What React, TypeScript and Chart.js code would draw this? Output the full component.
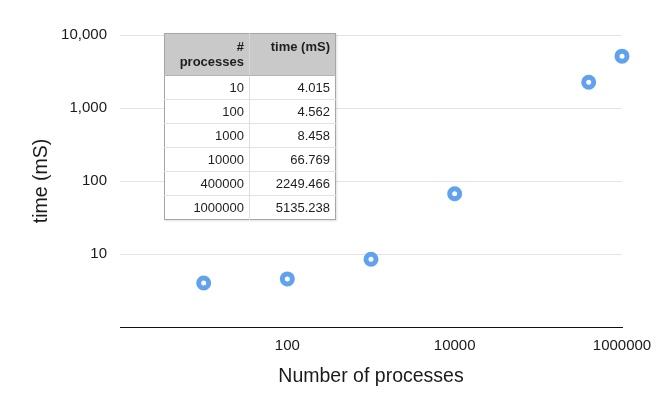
import React, { useEffect, useRef } from "react";
import { Chart, registerables } from "chart.js";

Chart.register(...registerables);

const processes = [10, 100, 1000, 10000, 400000, 1000000];
const timesMs = [4.015, 4.562, 8.458, 66.769, 2249.466, 5135.238];
const xTickValues = [100, 10000, 1000000];
const yTickValues = [1, 10, 100, 1000, 10000];
const tableHeaders = ["#\nprocesses", "time (mS)"];

const FONT = "'Liberation Sans', Arial, Helvetica, sans-serif";
const POINT_COLOR = "rgb(96,162,237)";

export default function App() {
  const canvasRef = useRef<HTMLCanvasElement | null>(null);

  useEffect(() => {
    const canvas = canvasRef.current;
    if (!canvas) return;
    const chart = new Chart(canvas, {
      type: "scatter",
      data: {
        datasets: [
          {
            data: processes.map((p, i) => ({ x: p, y: timesMs[i] })),
            pointRadius: 5,
            pointHoverRadius: 5,
            borderWidth: 5,
            pointBorderWidth: 5,
            borderColor: POINT_COLOR,
            pointBorderColor: POINT_COLOR,
            backgroundColor: "#ffffff",
            pointBackgroundColor: "#ffffff",
            showLine: false,
            clip: false,
          } as any,
        ],
      },
      options: {
        animation: false,
        responsive: false,
        devicePixelRatio: 1,
        layout: { padding: { top: 35, right: 40, bottom: 0, left: 0 } },
        plugins: {
          legend: { display: false },
          tooltip: { enabled: false },
        },
        scales: {
          x: {
            type: "logarithmic",
            min: 1,
            max: 1000000,
            afterBuildTicks: (s: any) => {
              s.ticks = xTickValues.map((v) => ({ value: v }));
            },
            afterFit: (s: any) => {
              s.height = 68;
            },
            grid: { display: false, drawTicks: false },
            border: { display: true, color: "#111", width: 1 },
            ticks: {
              autoSkip: false,
              maxRotation: 0,
              padding: 10,
              color: "#1a1a1a",
              font: { family: FONT, size: 15 },
              callback: (v: any) => String(v),
            },
            title: {
              display: true,
              text: "Number of processes",
              color: "#1a1a1a",
              font: { family: FONT, size: 19.5 },
              padding: { top: 0, bottom: 7 },
            },
          },
          y: {
            type: "logarithmic",
            min: 1,
            max: 10000,
            afterBuildTicks: (s: any) => {
              s.ticks = yTickValues.map((v) => ({ value: v }));
            },
            afterFit: (s: any) => {
              s.width = 120;
            },
            grid: { color: "#e3e3e3", lineWidth: 1, drawTicks: false },
            border: { display: false },
            ticks: {
              autoSkip: false,
              padding: 13,
              color: "#1a1a1a",
              font: { family: FONT, size: 15 },
              callback: (v: any) => (Number(v) === 1 ? "" : Number(v).toLocaleString("en-US")),
            },
            title: {
              display: true,
              text: "time (mS)",
              color: "#1a1a1a",
              font: { family: FONT, size: 19.5 },
              padding: { top: 30, bottom: 0 },
            },
          },
        },
      },
    });
    return () => chart.destroy();
  }, []);

  const cellBase: React.CSSProperties = {
    textAlign: "right",
    padding: "0 5px 0 0",
    boxSizing: "border-box",
  };

  return (
    <div style={{ position: "absolute", left: 0, top: 0, width: 662, height: 395, background: "#fff" }}>
      <canvas ref={canvasRef} width={662} height={395} style={{ display: "block", width: 662, height: 395 }} />
      <table
        style={{
          position: "absolute",
          left: 164,
          top: 33,
          width: 171,
          borderCollapse: "collapse",
          fontFamily: FONT,
          fontSize: 13,
          color: "#1e1e1e",
          background: "#fff",
          border: "1px solid #a6a6a6",
          tableLayout: "fixed",
          boxShadow: "1px 1px 2px rgba(0,0,0,0.12)",
        }}
      >
        <colgroup>
          <col style={{ width: 85 }} />
          <col style={{ width: 86 }} />
        </colgroup>
        <thead>
          <tr style={{ height: 42, background: "#c9c9c9" }}>
            {tableHeaders.map((h, i) => (
              <th
                key={i}
                style={{
                  ...cellBase,
                  verticalAlign: "top",
                  paddingTop: 5,
                  lineHeight: "15px",
                  fontWeight: "bold",
                  whiteSpace: "pre-line",
                  borderRight: i === 0 ? "1px solid #d6d6d6" : undefined,
                  borderBottom: "1px solid #b5b5b5",
                }}
              >
                {h}
              </th>
            ))}
          </tr>
        </thead>
        <tbody>
          {processes.map((p, i) => (
            <tr key={p} style={{ height: 24 }}>
              <td
                style={{
                  ...cellBase,
                  verticalAlign: "middle",
                  borderRight: "1px solid #dedede",
                  borderBottom: i < processes.length - 1 ? "1px solid #e3e3e3" : undefined,
                }}
              >
                {String(p)}
              </td>
              <td
                style={{
                  ...cellBase,
                  verticalAlign: "middle",
                  borderBottom: i < processes.length - 1 ? "1px solid #e3e3e3" : undefined,
                }}
              >
                {timesMs[i].toFixed(3)}
              </td>
            </tr>
          ))}
        </tbody>
      </table>
    </div>
  );
}
